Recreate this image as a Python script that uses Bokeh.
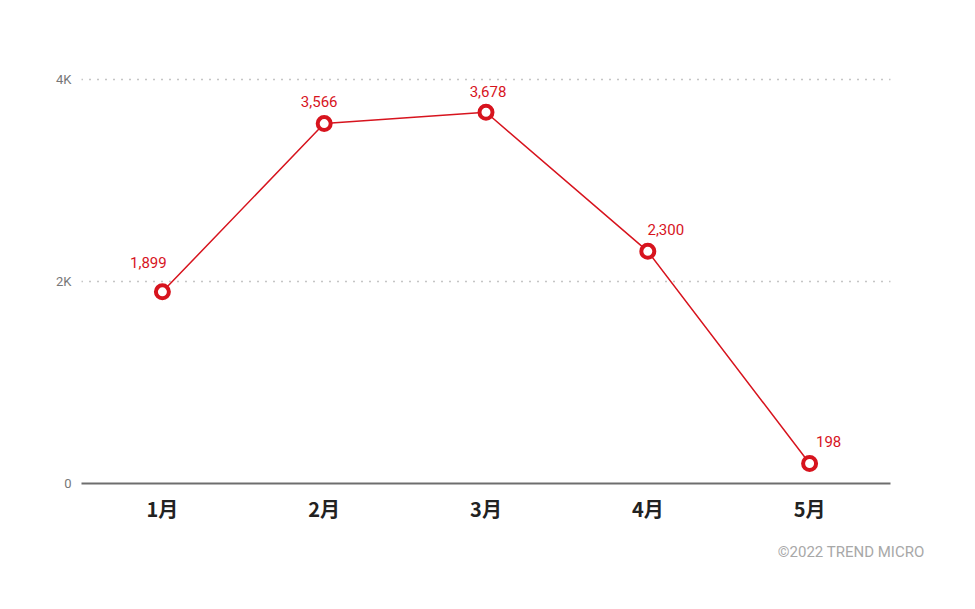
from bokeh.plotting import figure
from bokeh.models import ColumnDataSource, Range1d, FixedTicker, LabelSet, Title
from bokeh.core.properties import value
from bokeh.embed import file_html
from bokeh.resources import INLINE

months = ["1月", "2月", "3月", "4月", "5月"]
counts = [1899, 3566, 3678, 2300, 198]
count_labels = ["1,899", "3,566", "3,678", "2,300", "198"]
label_dx = [-14, -5, 2, 18, 19]
label_dy = [29, 22, 21, 22, 22]

RED = "#d7141e"

src = ColumnDataSource(dict(m=months, v=counts, t=count_labels, dx=label_dx, dy=label_dy))

p = figure(width=959, height=593, x_range=months, y_range=Range1d(0, 4300),
           output_backend="svg", toolbar_location=None,
           min_border_left=81, min_border_right=69, min_border_top=49, min_border_bottom=110)
p.outline_line_color = None
p.background_fill_color = "white"

p.xgrid.grid_line_color = None
p.ygrid.grid_line_color = "#8a8a8a"
p.ygrid.grid_line_dash = "1 7"
p.ygrid.grid_line_width = 1.5
p.ygrid.ticker = FixedTicker(ticks=[2000, 4000])

p.yaxis.ticker = FixedTicker(ticks=[0, 2000, 4000])
p.yaxis.major_label_overrides = {0: "0", 2000: "2K", 4000: "4K"}
p.yaxis.axis_line_color = None
p.yaxis.major_tick_line_color = None
p.yaxis.minor_tick_line_color = None
p.yaxis.major_label_text_color = "#777777"
p.yaxis.major_label_text_font = "Roboto"
p.yaxis.major_label_text_font_size = "13px"
p.yaxis.major_label_standoff = 4

p.xaxis.axis_line_color = "#6e6e6e"
p.xaxis.axis_line_width = 2
p.xaxis.major_tick_line_color = None
p.xaxis.minor_tick_line_color = None
p.xaxis.major_label_text_font = "Noto Sans CJK JP"
p.xaxis.major_label_text_font_size = "20px"
p.xaxis.major_label_text_font_style = "bold"
p.xaxis.major_label_text_color = "#222222"
p.xaxis.major_label_standoff = 4

p.line("m", "v", source=src, line_color=RED, line_width=1.5)
p.scatter("m", "v", source=src, size=13, fill_color="white", line_color=RED, line_width=4)

labels = LabelSet(x="m", y="v", text="t", source=src, x_offset="dx", y_offset="dy",
                  text_align="center", text_baseline="middle", text_color=RED,
                  text_font=value("Roboto"), text_font_size="15px")
p.add_layout(labels)

credit = Title(text="©2022 TREND MICRO", align="right", offset=-34, standoff=31,
               text_color="#a8a8a8", text_font="Roboto", text_font_size="15px",
               text_font_style="normal")
p.add_layout(credit, "below")

open("out.html", "w").write(file_html(p, INLINE))
